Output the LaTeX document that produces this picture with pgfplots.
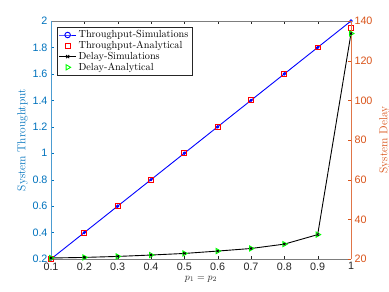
\documentclass[border=0pt]{standalone}
\usepackage{fontspec}
\usepackage{pgfplots}
\pgfplotsset{compat=1.18}
\usetikzlibrary{calc}
\newfontfamily\ticksf{Liberation Sans}
\definecolor{mblue}{rgb}{0,0.447,0.741}
\definecolor{morange}{rgb}{0.85,0.325,0.098}
\definecolor{mgray}{rgb}{0.15,0.15,0.15}
\definecolor{mgreen}{rgb}{0,1,0}
\begin{document}
\begin{tikzpicture}
\pgfplotsset{
  common/.style={
    scale only axis, width=300bp, height=238bp,
    xmin=0.1, xmax=1,
    /pgf/number format/assume math mode=true,
    tick label style={font=\ticksf\fontsize{10.8}{12}\selectfont},
    label style={font=\fontsize{11.5}{13}\selectfont},
    tick align=inside,
    major tick length=3.5pt,
  }
}
\begin{axis}[common, name=ax,
  ymin=0.2, ymax=2,
  axis x line=box, axis y line*=left,
  xtick={0.1,0.2,0.3,0.4,0.5,0.6,0.7,0.8,0.9,1},
  xticklabels={0.1,0.2,0.3,0.4,0.5,0.6,0.7,0.8,0.9,1},
  ytick={0.2,0.4,0.6,0.8,1,1.2,1.4,1.6,1.8,2},
  yticklabels={0.2,0.4,0.6,0.8,1,1.2,1.4,1.6,1.8,2},
  x axis line style={draw=mgray!60, -},
  y axis line style={draw=mblue!70, -},
  xtick style={draw=mgray},
  ytick style={draw=mblue},
  x tick label style={text=mgray},
  y tick label style={text=mblue},
  xlabel={$p_1 = p_2$}, xlabel style={text=mgray, yshift=1pt},
  ylabel={System Throughtput}, ylabel style={text=mblue, yshift=-2pt},
  legend style={at={(0.02,0.975)}, anchor=north west, draw=mgray,
    font=\fontsize{10.3}{11.5}\selectfont, row sep=-2pt, inner sep=1.5pt,
    cells={anchor=west}},
  legend cell align=left,
]
\addplot[blue, line width=0.9pt, mark=o, mark size=1.2pt, forget plot] coordinates {
(0.1,0.2)(0.2,0.4)(0.3,0.6)(0.4,0.8)(0.5,1.0)(0.6,1.2)(0.7,1.4)(0.8,1.6)(0.9,1.8)(1.0,2.0)};
\addplot[only marks, red, line width=0.9pt, mark=square, mark size=2.5pt, forget plot] coordinates {
(0.1,0.2)(0.2,0.4)(0.3,0.6)(0.4,0.8)(0.5,1.0)(0.6,1.2)(0.7,1.4)(0.8,1.6)(0.9,1.8)(1.0,1.945)};
\addlegendimage{blue, line width=0.9pt, mark=o, mark size=2.8pt}
\addlegendentry{Throughput-Simulations}
\addlegendimage{only marks, red, line width=0.9pt, mark=square, mark size=2.5pt}
\addlegendentry{Throughput-Analytical}
\addlegendimage{black, line width=0.9pt, mark=x, mark size=2.2pt}
\addlegendentry{Delay-Simulations}
\addlegendimage{only marks, mgreen, line width=0.9pt, mark=triangle, mark size=3pt, every mark/.append style={rotate=-90}}
\addlegendentry{Delay-Analytical}
\end{axis}
\begin{axis}[common,
  ymin=20, ymax=140,
  axis x line=none, axis y line*=right,
  ytick={20,40,60,80,100,120,140},
  y axis line style={draw=morange!80, -},
  ytick style={draw=morange},
  y tick label style={text=morange},
  ylabel={System Delay}, ylabel style={text=morange},
]
\addplot[only marks, mgreen, line width=0.9pt, mark=triangle, mark size=3pt, every mark/.append style={rotate=-90}] coordinates {
(0.1,20.5)(0.2,20.8)(0.3,21.3)(0.4,22.0)(0.5,22.8)(0.6,24.0)(0.7,25.3)(0.8,27.5)(0.9,32.3)(1.0,133.7)};
\addplot[black, line width=0.9pt, mark=x, mark size=1.5pt] coordinates {
(0.1,20.5)(0.2,20.8)(0.3,21.3)(0.4,22.0)(0.5,22.8)(0.6,24.0)(0.7,25.3)(0.8,27.5)(0.9,32.3)(1.0,133.7)};
\end{axis}
\pgfresetboundingbox
\path[use as bounding box] ($(ax.south west)+(-51bp,-33bp)$) rectangle ($(ax.north east)+(38bp,21bp)$);
\end{tikzpicture}
\end{document}
